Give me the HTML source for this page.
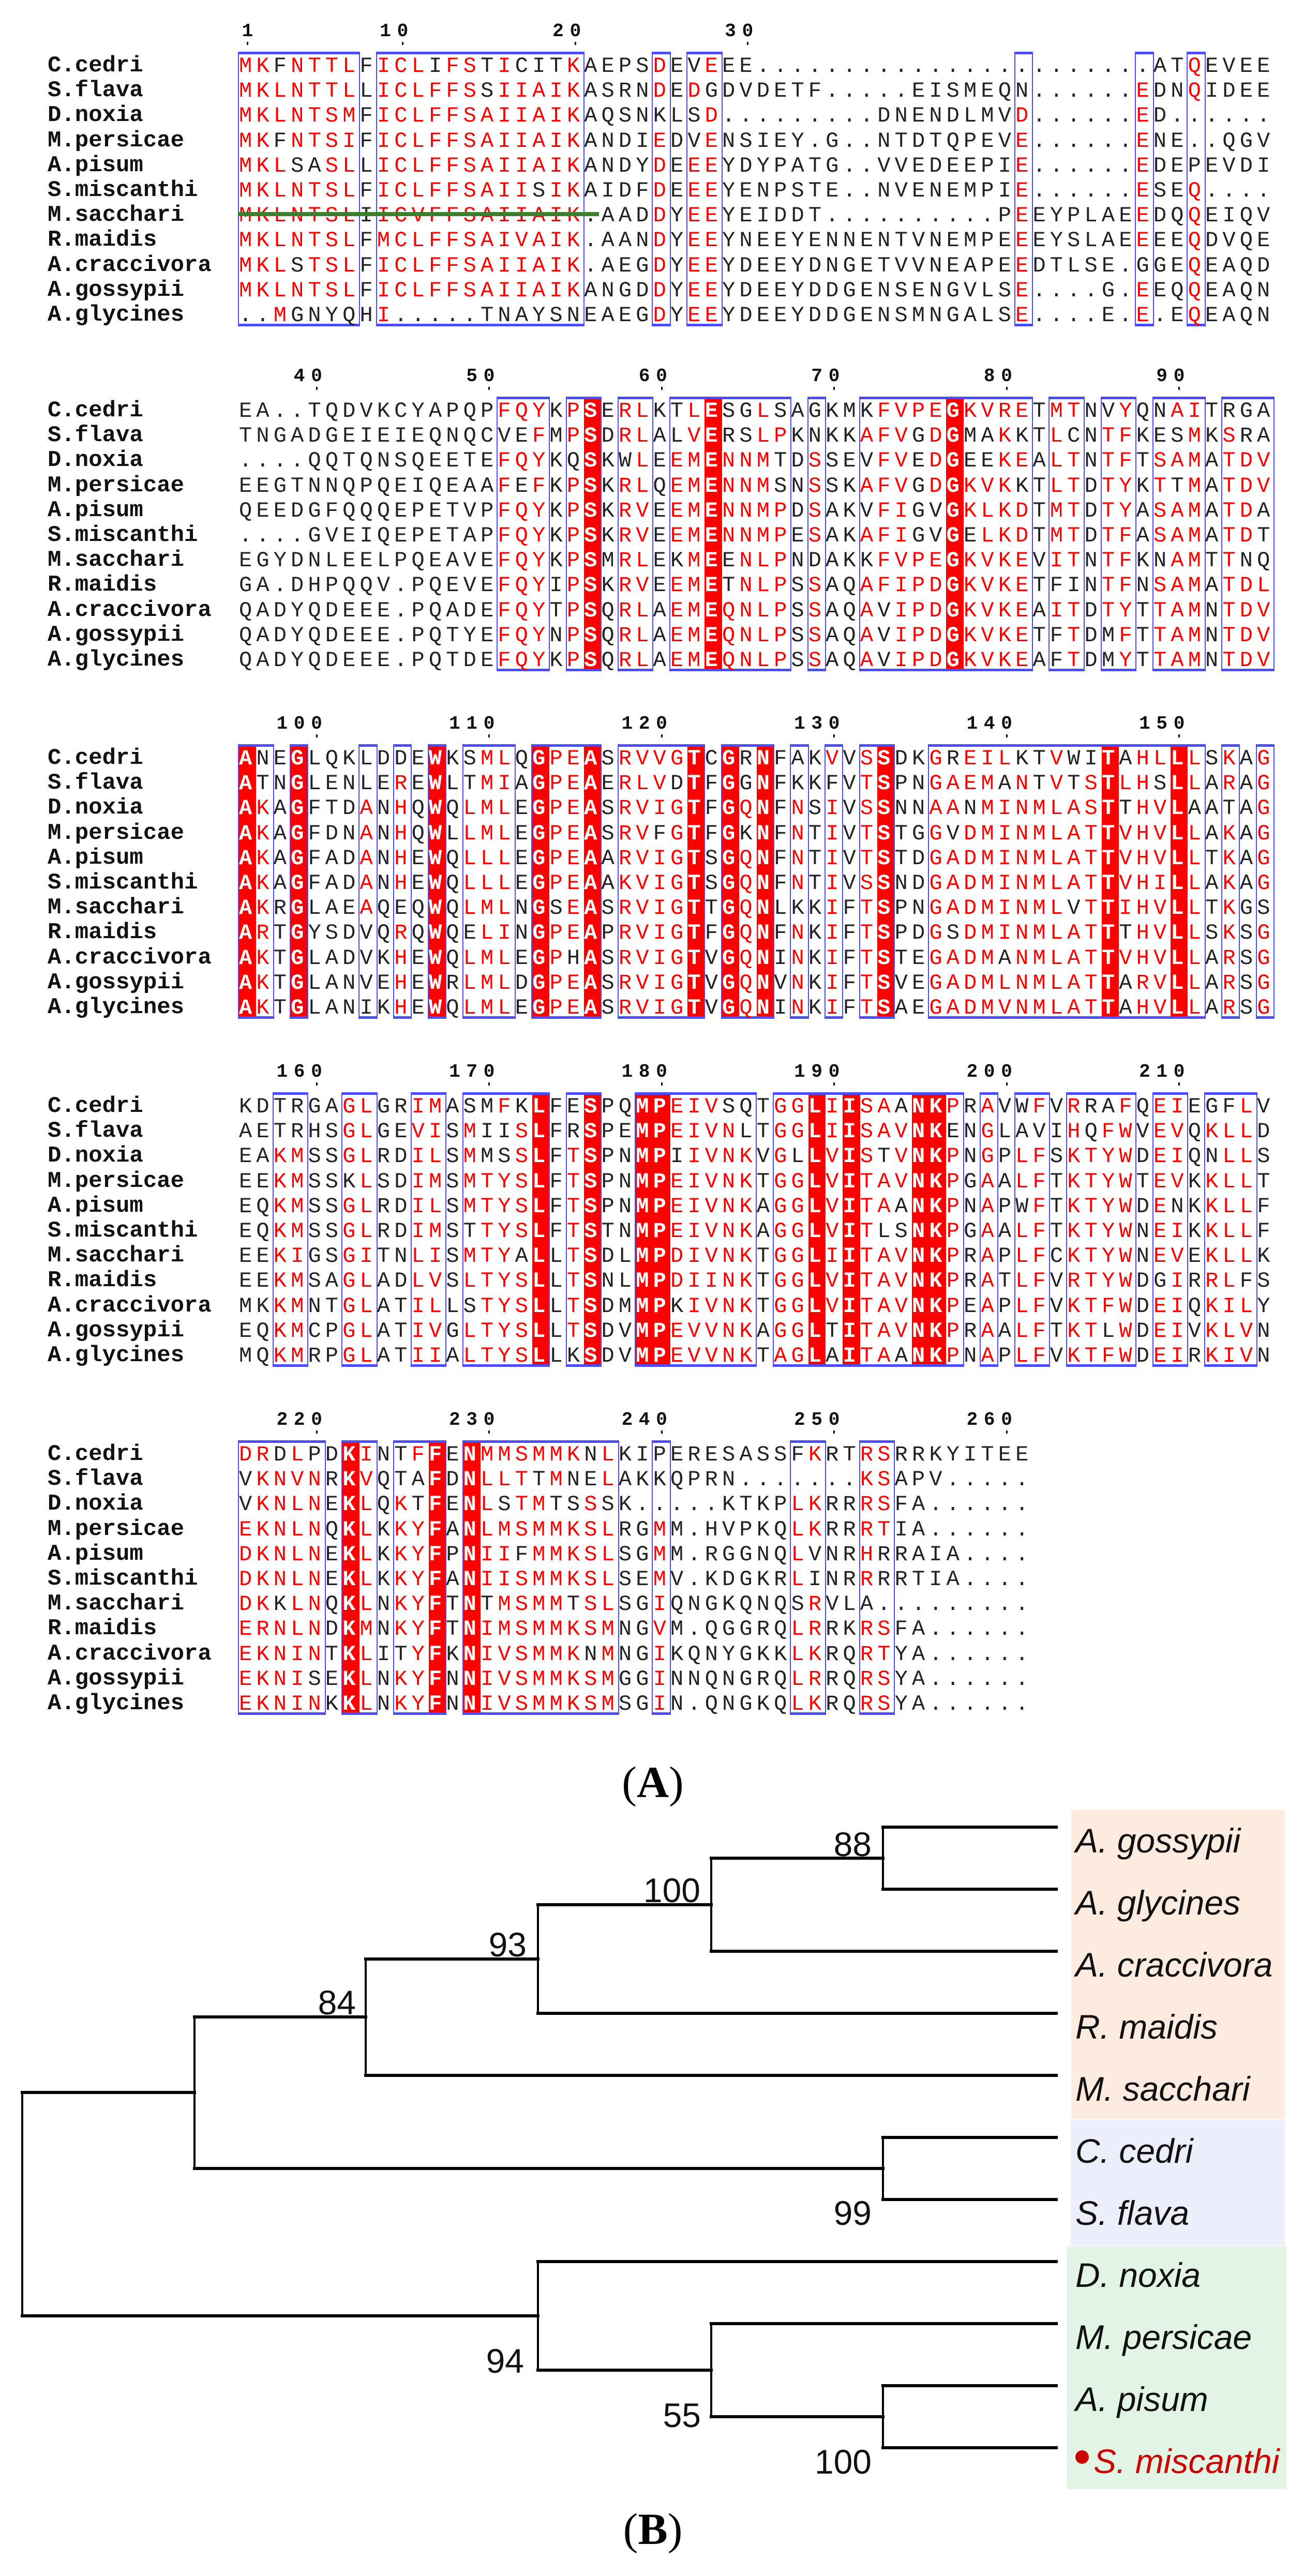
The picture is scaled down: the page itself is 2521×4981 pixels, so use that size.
<!DOCTYPE html>
<html><head><meta charset="utf-8">
<style>
html,body{margin:0;padding:0;background:#fff;}
body{width:2521px;height:4981px;position:relative;overflow:hidden;}
.names{position:absolute;left:92px;font-family:"Liberation Mono",monospace;font-weight:bold;font-size:44px;line-height:48.2px;color:#111;white-space:pre;}
.seq{position:absolute;left:462px;font-family:"Liberation Mono",monospace;font-size:42px;line-height:48.2px;letter-spacing:8.15px;color:#222;white-space:pre;z-index:3;}
.seq span.r{color:#f00;}
.seq span.w{color:#fff;font-weight:bold;}
.lab{position:absolute;width:200px;text-align:right;font-family:"Liberation Mono",monospace;font-weight:bold;font-size:36px;line-height:40px;letter-spacing:11.75px;color:#111;}
.tick{position:absolute;width:3px;height:6px;background:#111;}
.box{position:absolute;box-sizing:border-box;border:2px solid #4a4aff;border-top-width:5px;border-bottom-width:5px;z-index:2;}
.red{position:absolute;background:#f00;z-index:1;}
.cap{position:absolute;width:400px;text-align:center;font-family:"Liberation Serif",serif;font-size:86px;line-height:90px;color:#000;}
</style></head><body>

<!-- BLOCK 1 -->
<div class="names" style="top:103px">C.cedri
S.flava
D.noxia
M.persicae
A.pisum
S.miscanthi
M.sacchari
R.maidis
A.craccivora
A.gossypii
A.glycines</div>
<div class="seq" id="b1" style="top:104px">MKFNTTLFICLIFSTICITKAEPSDEVEEE.......................ATQEVEE
MKLNTTLLICLFFSSIIAIKASRNDEDGDVDETF.....EISMEQN......EDNQIDEE
MKLNTSMFICLFFSAIIAIKAQSNKLSD.........DNENDLMVD......ED......
MKFNTSIFICLFFSAIIAIKANDIEDVENSIEY.G..NTDTQPEVE......ENE..QGV
MKLSASLLICLFFSAIIAIKANDYDEEEYDYPATG..VVEDEEPIE......EDEPEVDI
MKLNTSLFICLFFSAIISIKAIDFDEEEYENPSTE..NVENEMPIE......ESEQ....
MKLNTSLIICVFFSAIIAIK.AADDYEEYEIDDT..........PEEYPLAEEDQQEIQV
MKLNTSLFMCLFFSAIVAIK.AANDYEEYNEEYENNENTVNEMPEEEYSLAEEEEQDVQE
MKLSTSLFICLFFSAIIAIK.AEGDYEEYDEEYDNGETVVNEAPEEDTLSE.GGEQEAQD
MKLNTSLFICLFFSAIIAIKANGDDYEEYDEEYDDGENSENGVLSE....G.EEQQEAQN
..MGNYQHI.....TNAYSNEAEGDYEEYDEEYDDGENSMNGALSE....E.E.EQEAQN</div>
<div class="lab" style="left:301px;top:41px">1</div>
<div class="lab" style="left:601px;top:41px">10</div>
<div class="lab" style="left:935px;top:41px">20</div>
<div class="lab" style="left:1268px;top:41px">30</div>

<!-- BLOCK 2 -->
<div class="names" style="top:770px">C.cedri
S.flava
D.noxia
M.persicae
A.pisum
S.miscanthi
M.sacchari
R.maidis
A.craccivora
A.gossypii
A.glycines</div>
<div class="seq" id="b2" style="top:771px">EA..TQDVKCYAPQPFQYKPSERLKTLESGLSAGKMKFVPEGKVRETMTNVYQNAITRGA
TNGADGEIEIEQNQCVEFMPSDRLALVERSLPKNKKAFVGDGMAKKTLCNTFKESMKSRA
....QQTQNSQEETEFQYKQSKWLEEMENNMTDSSEVFVEDGEEKEALTNTFTSAMATDV
EEGTNNQPQEIQEAAFEFKPSKRLQEMENNMSNSSKAFVGDGKVKKTLTDTYKTTMATDV
QEEDGFQQQEPETVPFQYKPSKRVEEMENNMPDSAKVFIGVGKLKDTMTDTYASAMATDA
....GVEIQEPETAPFQYKPSKRVEEMENNMPESAKAFIGVGELKDTMTDTFASAMATDT
EGYDNLEELPQEAVEFQYKPSMRLEKMEENLPNDAKKFVPEGKVKEVITNTFKNAMTTNQ
GA.DHPQQV.PQEVEFQYIPSKRVEEMETNLPSSAQAFIPDGKVKETFINTFNSAMATDL
QADYQDEEE.PQADEFQYTPSQRLAEMEQNLPSSAQAVIPDGKVKEAITDTYTTAMNTDV
QADYQDEEE.PQTYEFQYNPSQRLAEMEQNLPSSAQAVIPDGKVKETFTDMFTTAMNTDV
QADYQDEEE.PQTDEFQYKPSQRLAEMEQNLPSSAQAVIPDGKVKEAFTDMYTTAMNTDV</div>

<!-- BLOCK 3 -->
<div class="names" style="top:1442px">C.cedri
S.flava
D.noxia
M.persicae
A.pisum
S.miscanthi
M.sacchari
R.maidis
A.craccivora
A.gossypii
A.glycines</div>
<div class="seq" id="b3" style="top:1443px">ANEGLQKLDDEWKSMLQGPEASRVVGTCGRNFAKVVSSDKGREILKTVWITAHLLLSKAG
ATNGLENLEREWLTMIAGPEAERLVDTFGGNFKKFVTSPNGAEMANTVTSTLHSLLARAG
AKAGFTDANHQWQLMLEGPEASRVIGTFGQNFNSIVSSNNAANMINMLASTTHVLAATAG
AKAGFDNANHQWLLMLEGPEASRVFGTFGKNFNTIVTSTGGVDMINMLATTVHVLLAKAG
AKAGFADANHEWQLLLEGPEAARVIGTSGQNFNTIVTSTDGADMINMLATTVHVLLTKAG
AKAGFADANHEWQLLLEGPEAAKVIGTSGQNFNTIVSSNDGADMINMLATTVHILLAKAG
AKRGLAEAQEQWQLMLNGSEASRVIGTTGQNLKKIFTSPNGADMINMLVTTIHVLLTKGS
ARTGYSDVQRQWQELINGPEAPRVIGTFGQNFNKIFTSPDGSDMINMLATTTHVLLSKSG
AKTGLADVKHEWQLMLEGPHASRVIGTVGQNINKIFTSTEGADMANMLATTVHVLLARSG
AKTGLANVEHEWRLMLDGPEASRVIGTVGQNVNKIFTSVEGADMLNMLATTARVLLARSG
AKTGLANIKHEWQLMLEGPEASRVIGTVGQNINKIFTSAEGADMVNMLATTAHVLLARSG</div>

<!-- BLOCK 4 -->
<div class="names" style="top:2115px">C.cedri
S.flava
D.noxia
M.persicae
A.pisum
S.miscanthi
M.sacchari
R.maidis
A.craccivora
A.gossypii
A.glycines</div>
<div class="seq" id="b4" style="top:2116px">KDTRGAGLGRIMASMFKLFESPQMPEIVSQTGGLIISAANKPRAVWFVRRAFQEIEGFLV
AETRHSGLGEVISMIISLFRSPEMPEIVNLTGGLIISAVNKENGLAVIHQFWVEVQKLLD
EAKMSSGLRDILSMMSSLFTSPNMPIIVNKVGLLVISTVNKPNGPLFSKTYWDEIQNLLS
EEKMSSKLSDIMSMTYSLFTSPNMPEIVNKTGGLVITAVNKPGAALFTKTYWTEVKKLLT
EQKMSSGLRDILSMTYSLFTSPNMPEIVNKAGGLVITAANKPNAPWFTKTYWDENKKLLF
EQKMSSGLRDIMSTTYSLFTSTNMPEIVNKAGGLVITLSNKPGAALFTKTYWNEIKKLLF
EEKIGSGITNLISMTYALLTSDLMPDIVNKTGGLIITAVNKPRAPLFCKTYWNEVEKLLK
EEKMSAGLADLVSLTYSLLTSNLMPDIINKTGGLVITAVNKPRATLFVRTYWDGIRRLFS
MKKMNTGLATILLSTYSLLTSDMMPKIVNKTGGLVITAVNKPEAPLFVKTFWDEIQKILY
EQKMCPGLATIVGLTYSLLTSDVMPEVVNKAGGLTITAVNKPRAALFTKTLWDEIVKLVN
MQKMRPGLATIIALTYSLLKSDVMPEVVNKTAGLAITAANKPNAPLFVKTFWDEIRKIVN</div>

<!-- BLOCK 5 -->
<div class="names" style="top:2788px">C.cedri
S.flava
D.noxia
M.persicae
A.pisum
S.miscanthi
M.sacchari
R.maidis
A.craccivora
A.gossypii
A.glycines</div>
<div class="seq" id="b5" style="top:2789px">DRDLPDKINTFFENMMSMMKNLKIPERESASSFKRTRSRRKYITEE
VKNVNRKVQTAFDNLLTTMNELAKKQPRN.......KSAPV.....
VKNLNEKLQKTFENLSTMTSSSK.....KTKPLKRRRSFA......
EKNLNQKLKKYFANLMSMMKSLRGMM.HVPKQLKRRRTIA......
DKNLNEKLKKYFPNIIFMMKSLSGMM.RGGNQLVNRHRRAIA....
DKNLNEKLKKYFANIISMMKSLSEMV.KDGKRLINRRRRTIA....
DKKLNQKLNKYFTNTMSMMTSLSGIQNGKQNQSRVLA.........
ERNLNDKMNKYFTNIMSMMKSMNGVM.QGGRQLRRKRSFA......
EKNINTKLITYFKNIVSMMKNMNGIKQNYGKKLKRQRTYA......
EKNISEKLNKYFNNIVSMMKSMGGINNQNGRQLRRQRSYA......
EKNINKKLNKYFNNIVSMMKSMSGIN.QNGKQLKRQRSYA......</div>

<div id="labs"></div>

<!-- green strike line over M.sacchari -->
<div style="position:absolute;left:460px;top:410px;width:698px;height:8px;background:#3c7f2e;z-index:5;"></div>

<div class="cap" style="left:1062px;top:3401px">(<b>A</b>)</div>
<div class="cap" style="left:1062px;top:4845px">(<b>B</b>)</div>

<svg style="position:absolute;left:0;top:0" width="2521" height="4981" viewBox="0 0 2521 4981">
<rect x="2071" y="3500" width="413" height="598" fill="#fdebe0"/>
<rect x="2070" y="4100" width="414" height="242" fill="#eceffb"/>
<rect x="2063" y="4343" width="424" height="470" fill="#e2f5e5"/>
<g stroke="#000" stroke-width="6" stroke-linecap="square" fill="none">
<path d="M1707 3533H2042M1707 3653H2042M1375 3773H2042M1040 3893H2042M707 4013H2042M1707 4133H2042M1707 4253H2042M1040 4373H2042M1375 4493H2042M1707 4613H2042M1707 4733H2042"/>
<path d="M1375 3593H1707M1040 3683H1375M707 3788H1040M376 3900H707M376 4193H1707M43 4046H376M43 4478H1040M1040 4583H1375M1375 4673H1707"/>
</g>
<g stroke="#000" stroke-width="4" fill="none">
<path d="M1707 3533V3653M1375 3593V3773M1040 3683V3893M707 3788V4013M376 3900V4193M1707 4133V4253M43 4046V4478M1040 4373V4583M1375 4493V4673M1707 4613V4733"/>
</g>
<g font-family="Liberation Sans, sans-serif" font-size="66" fill="#111" text-anchor="end">
<text x="1685" y="3589">88</text>
<text x="1354" y="3678">100</text>
<text x="1018" y="3783">93</text>
<text x="688" y="3895">84</text>
<text x="1685" y="4302">99</text>
<text x="1013" y="4588">94</text>
<text x="1355" y="4693">55</text>
<text x="1685" y="4783">100</text>
</g>
<g font-family="Liberation Sans, sans-serif" font-size="66" font-style="italic" fill="#111">
<text x="2079" y="3582">A. gossypii</text>
<text x="2079" y="3702">A. glycines</text>
<text x="2079" y="3822">A. craccivora</text>
<text x="2079" y="3942">R. maidis</text>
<text x="2079" y="4062">M. sacchari</text>
<text x="2079" y="4182">C. cedri</text>
<text x="2079" y="4302">S. flava</text>
<text x="2079" y="4422">D. noxia</text>
<text x="2079" y="4542">M. persicae</text>
<text x="2079" y="4662">A. pisum</text>
<text x="2114" y="4782" fill="#cc0000">S. miscanthi</text>
</g>
<circle cx="2092" cy="4751" r="13" fill="#cc0000"/>
</svg>

<script>
(function(){
var CW=33.35, X0=462, RH=48.2;
var blocks=[
 {id:'b1',r1:125,boxes:[[0,6],[8,19],[24,24],[26,27],[45,45],[52,52],[55,55]],red:[],labs:null},
 {id:'b2',r1:792,boxes:[[15,17],[19,20],[22,23],[25,31],[33,33],[36,45],[47,48],[50,51],[53,55],[57,59]],red:[20,27,41],labs:[40,50,60,70,80,90]},
 {id:'b3',r1:1464,boxes:[[0,1],[3,3],[7,7],[9,9],[11,11],[13,15],[17,20],[22,26],[28,30],[32,32],[34,34],[36,37],[40,55],[57,57],[59,59]],red:[0,3,11,17,20,26,28,30,37,50,54],labs:[100,110,120,130,140,150]},
 {id:'b4',r1:2137,boxes:[[2,3],[6,7],[10,11],[13,17],[19,20],[23,29],[31,41],[43,43],[45,46],[48,51],[53,54],[56,58]],red:[17,20,23,24,33,35,39,40],labs:[160,170,180,190,200,210]},
 {id:'b5',r1:2810,boxes:[[0,4],[6,7],[9,11],[13,21],[24,24],[32,33],[36,37]],red:[6,11,13],labs:[220,230,240,250,260]}
];
var groups=["ILVM","FYW","KRH","DE","ST","NQ","AG","P","C"];
function grp(c){for(var i=0;i<groups.length;i++)if(groups[i].indexOf(c)>=0)return i;return -1;}
var body=document.body;
blocks.forEach(function(b,bi){
  var el=document.getElementById(b.id);
  var rows=el.textContent.split('\n');
  var top=b.r1-25, bot=b.r1+10*RH+24;
  var inBox={},isRed={};
  b.boxes.forEach(function(bx){for(var c=bx[0];c<=bx[1];c++)inBox[c]=1;
    var d=document.createElement('div');d.className='box';
    d.style.left=(X0+bx[0]*CW-2)+'px';d.style.width=((bx[1]-bx[0]+1)*CW+3)+'px';
    d.style.top=top+'px';d.style.height=(bot-top)+'px';body.appendChild(d);});
  b.red.forEach(function(c){isRed[c]=1;
    var d=document.createElement('div');d.className='red';
    d.style.left=(X0+c*CW)+'px';d.style.width=CW+'px';
    d.style.top=top+'px';d.style.height=(bot-top)+'px';body.appendChild(d);});
  var maj={};
  for(var c=0;c<60;c++){if(!inBox[c])continue;var cnt={};rows.forEach(function(r){var ch=r[c];if(ch&&ch!='.')cnt[ch]=(cnt[ch]||0)+1;});
    var best=null,bn=0;for(var k in cnt)if(cnt[k]>bn){bn=cnt[k];best=k;}maj[c]=best;}
  var html=rows.map(function(r){var s='';for(var c=0;c<r.length;c++){var ch=r[c];
    if(isRed[c])s+='<span class="w">'+ch+'</span>';
    else if(inBox[c]&&ch!='.'&&maj[c]&&(ch==maj[c]||(grp(ch)>=0&&grp(ch)==grp(maj[c]))))s+='<span class="r">'+ch+'</span>';
    else s+=ch;}return s;}).join('\n');
  el.innerHTML=html;
  if(b.labs){b.labs.forEach(function(v,i){var c=4+10*i;var cx=X0+(c+0.5)*CW;
    var l=document.createElement('div');l.className='lab';l.textContent=String(v);
    l.style.left=(cx+22.55-200)+'px';l.style.top=(b.r1-84)+'px';body.appendChild(l);});}
  var cols=b.labs?b.labs.map(function(v,i){return 4+10*i;}):[0,9,19,29];
  cols.forEach(function(c){var t=document.createElement('div');t.className='tick';
    t.style.left=(X0+(c+0.5)*CW-1.5)+'px';t.style.top=(b.r1-44)+'px';body.appendChild(t);});
});
})();
</script>
</body></html>
